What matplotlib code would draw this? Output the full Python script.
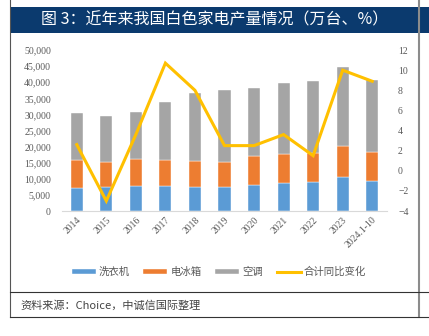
import numpy as np
import matplotlib
matplotlib.use('Agg')
import matplotlib.pyplot as plt
from matplotlib.lines import Line2D
from matplotlib.patches import Rectangle
from matplotlib.ticker import FuncFormatter

plt.rcParams['font.family'] = ['Noto Sans CJK SC', 'DejaVu Sans']

# data (万台, %)
years = ['2014', '2015', '2016', '2017', '2018', '2019', '2020', '2021', '2022', '2023', '2024.1-10']
washer = [7200, 7350, 7650, 7650, 7350, 7450, 8070, 8600, 9100, 10470, 9300]
fridge = [8800, 7950, 8600, 8280, 8150, 7850, 9130, 9200, 8800, 9830, 8900]
aircon = [14500, 14300, 14450, 17920, 21150, 22200, 21000, 21850, 22370, 24500, 22500]
growth = [2.6, -3.0, 3.6, 10.7, 8.0, 2.5, 2.5, 3.6, 1.5, 10.0, 8.9]

blue = '#5B9BD5'
orange = '#ED7D31'
gray = '#A5A5A5'
gold = '#FFC000'

fig = plt.figure(figsize=(4.29, 3.36), dpi=100)
ax = fig.add_axes([0.1445, 0.372, 0.7576, 0.479])
ax2 = ax.twinx()

x = np.arange(len(years))
w = 0.41
b1 = np.array(washer)
b2 = b1 + np.array(fridge)
ax.bar(x, washer, w, color=blue, edgecolor='white', linewidth=0.3, label='洗衣机')
ax.bar(x, fridge, w, bottom=b1, color=orange, edgecolor='white', linewidth=0.3, label='电冰箱')
ax.bar(x, aircon, w, bottom=b2, color=gray, edgecolor='white', linewidth=0.3, label='空调')
ax2.plot(x, growth, color=gold, linewidth=2.2, label='合计同比变化', solid_joinstyle='miter')

ax.set_xlim(-0.5, len(years) - 0.5)
ax.set_ylim(0, 50000)
ax.set_yticks(np.arange(0, 50001, 5000))
ax.yaxis.set_major_formatter(FuncFormatter(lambda v, p: '{:,.0f}'.format(v)))
ax2.set_ylim(-4, 12)
ax2.set_yticks(np.arange(-4, 13, 2))

ax.set_xticks(x)
ax.set_xticklabels(years, rotation=45, ha='right', rotation_mode='anchor')

for a in (ax, ax2):
    for s in a.spines.values():
        s.set_visible(False)
    a.tick_params(length=0, labelsize=7, labelcolor='#595959')
    for t in a.get_xticklabels() + a.get_yticklabels():
        t.set_fontfamily('Liberation Serif')
ax.spines['bottom'].set_visible(True)
ax.spines['bottom'].set_color('#D9D9D9')
ax.spines['bottom'].set_linewidth(0.8)
ax.tick_params(axis='y', pad=8)
ax.tick_params(axis='x', pad=3)
ax2.tick_params(axis='y', pad=8)

h1, l1 = ax.get_legend_handles_labels()
h2, l2 = ax2.get_legend_handles_labels()
fig.legend(h1 + h2, l1 + l2, loc='center', bbox_to_anchor=(0.51, 0.19), ncol=4,
           frameon=False, fontsize=7.5, handlelength=2.3, handleheight=0.45,
           columnspacing=1.3, handletextpad=0.3, labelcolor='#595959')

# report-style frame
fig.add_artist(Rectangle((0.0233, 0.902), 0.9767, 0.077, transform=fig.transFigure,
                         facecolor='#0B3A6E', edgecolor='none'))
fig.text(0.501, 0.94, '图 3：近年来我国白色家电产量情况（万台、%）', color='white',
         fontsize=11.5, ha='center', va='center')
fig.add_artist(Line2D([0.0233, 0.0233], [0.0574, 1], transform=fig.transFigure, color='#555555', lw=0.8))
fig.add_artist(Line2D([0.9767, 0.9767], [0.0574, 1], transform=fig.transFigure, color='#8C8C8C', lw=1.5))
fig.add_artist(Line2D([0.0233, 1], [0.1318, 0.1318], transform=fig.transFigure, color='#333333', lw=0.8))
fig.add_artist(Line2D([0.0233, 1], [0.0574, 0.0574], transform=fig.transFigure, color='#333333', lw=0.8))
fig.text(0.048, 0.092, '资料来源：Choice，中诚信国际整理', fontsize=8, color='#444444',
         style='italic', va='center')

fig.savefig('out.png', dpi=100)
